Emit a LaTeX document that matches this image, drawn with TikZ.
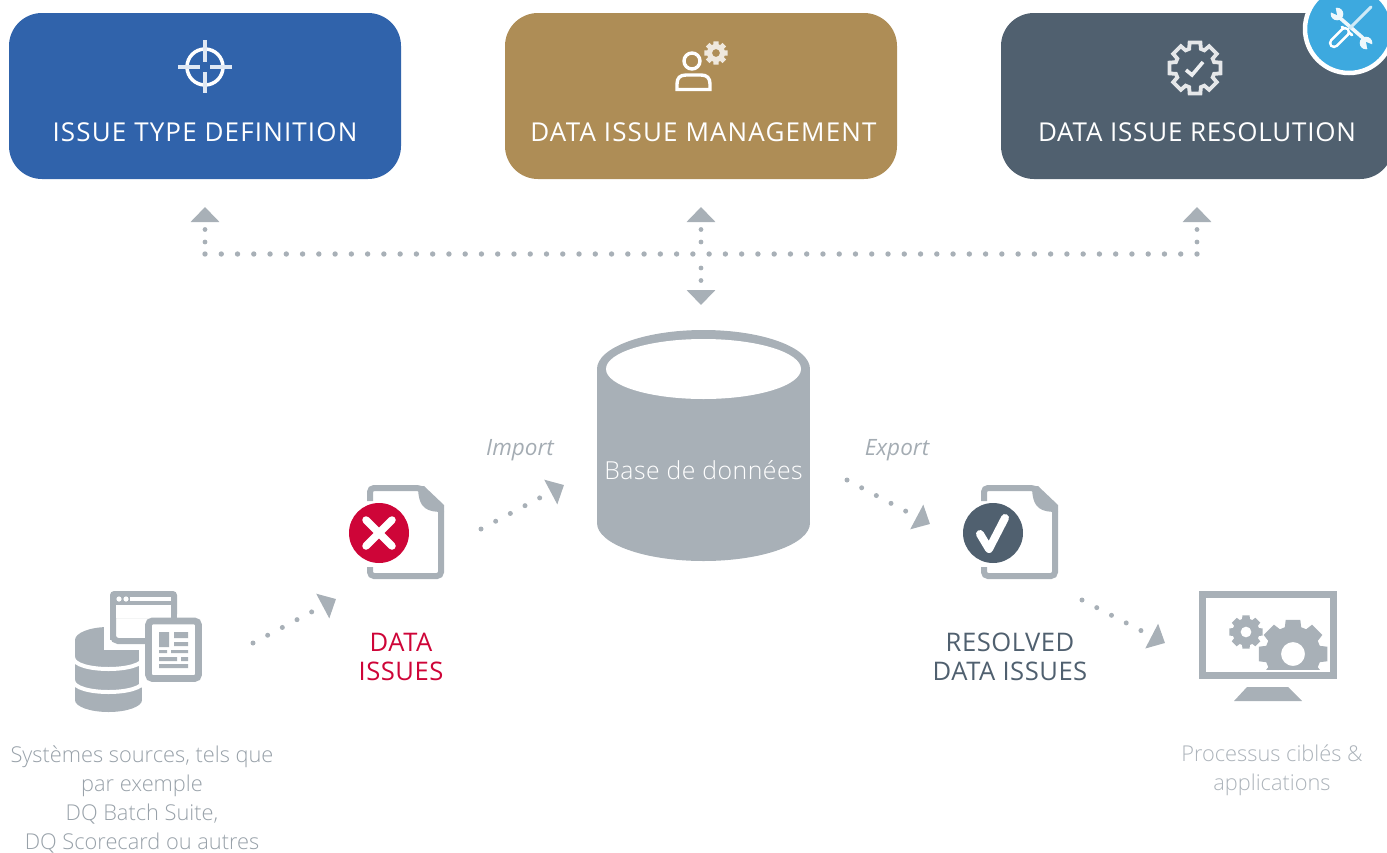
\documentclass[tikz,border=0pt]{standalone}
\usepackage{fontspec}
\setmainfont{Open Sans}
\newfontfamily\lightfont{Open Sans Light}
\usetikzlibrary{arrows.meta}
\definecolor{cblue}{HTML}{3063AB}
\definecolor{cgold}{HTML}{AE8D56}
\definecolor{cslate}{HTML}{50606F}
\definecolor{cgray}{HTML}{A8B0B7}
\definecolor{ctext}{HTML}{98A1A9}
\definecolor{cpale}{HTML}{ACB3BA}
\definecolor{cflow}{HTML}{A4ACB3}
\definecolor{cbadge}{HTML}{3DA9DF}
\definecolor{cred}{HTML}{CE0538}
\newcommand{\gearshape}[5]{% cx cy outer inner rotation
  (#1,#2) ++(#5-12:#3) \foreach \k in {0,...,7}{
    -- ([shift={(#1,#2)}]#5+\k*45-12:#3) -- ([shift={(#1,#2)}]#5+\k*45+12:#3)
    -- ([shift={(#1,#2)}]#5+\k*45+17:#4) -- ([shift={(#1,#2)}]#5+\k*45+28:#4)
  } -- cycle}
\tikzset{
  card/.style={rounded corners=33pt,minimum width=392pt,minimum height=166pt,inner sep=0pt,draw=none},
  cardtitle/.style={text=white,font=\fontsize{26}{29}\selectfont\addfontfeature{LetterSpace=4.4},anchor=base},
  cardtitlenarrow/.style={text=white,font=\fontsize{26}{29}\selectfont\addfontfeature{LetterSpace=3.1},anchor=base},
  dotline/.style={draw=cgray,line width=5.4pt,line cap=round,dash pattern=on 0pt off 16.262pt},
  dotarrow/.style={draw=cgray,line width=4.8pt,line cap=round,dash pattern=on 0pt off 12.5pt,
    -{Triangle[length=15pt,width=28pt,fill=cgray]}},
  diagarrow/.style={draw=cgray,line width=5pt,line cap=round,dash pattern=on 0pt off 16.6pt,
    -{Triangle[length=15pt,width=27pt,fill=cgray]}},
  graytext/.style={text=ctext,align=center,font=\lightfont\fontsize{21.8}{29}\selectfont},
  paletext/.style={text=cpale,align=center,font=\lightfont\fontsize{21.8}{29}\selectfont},
  statuslabel/.style={align=center,font=\fontsize{25.6}{29}\selectfont\addfontfeature{LetterSpace=2}},
  flowlabel/.style={text=cflow,font=\fontsize{22.5}{26}\selectfont\itshape},
  docline/.style={draw=cgray,line width=6pt,rounded corners=4pt},
}
\begin{document}
\begin{tikzpicture}[x=1pt,y=-1pt]
\clip (0,0) rectangle (1387,852);
% cards
\node[card,fill=cblue] (defbox) at (205,96) {};
\node[card,fill=cgold] (mgmtbox) at (701,96) {};
\node[card,fill=cslate] (resbox) at (1197,96) {};
\node[cardtitle] (deftitle) at (205,141) {ISSUE TYPE DEFINITION};
\node[cardtitle] (mgmttitle) at (703.5,141) {DATA ISSUE MANAGEMENT};
\node[cardtitlenarrow] (restitle) at (1197,141) {DATA ISSUE RESOLUTION};
% target icon
\draw[white,line width=3.5pt] (205,67) circle (18pt);
\draw[white!85!cblue,line width=4pt] (178,67)--(200,67) (210,67)--(232,67) (205,40)--(205,62) (205,72)--(205,93);
% person icon
\draw[white,line width=3.4pt] (692,61) circle (8pt);
\draw[white,line width=3.4pt] (677,89.5)--(677,84) .. controls (677,78) and (680,75) .. (686,75) -- (701,75) .. controls (707,75) and (710,78) .. (710,84) -- (710,89.5) -- cycle;
\fill[cgold!20!white,even odd rule] \gearshape{716}{53}{12}{9}{0} (716,53) circle (4pt);
% gear check icon
\draw[white!85!cslate,line width=3.8pt,line join=miter] \gearshape{1195}{68}{26}{20}{0};
\draw[white!90!cslate,line width=3.6pt] (1186,70)--(1192,75)--(1203,62);
% badge
\node[circle,fill=cbadge,draw=white,line width=4.5pt,minimum size=88pt,inner sep=0pt] (badge) at (1349,29) {};
\begin{scope}[line cap=round]
  \draw[white!92!cbadge,line width=3.6pt] (1340,18)--(1363,38);
  \fill[white!92!cbadge] (1337,14) circle (6.3pt) (1366,43) circle (6.3pt);
  \fill[cbadge] (1337,15) -- (1328,11) -- (1335,5) -- cycle;
  \fill[cbadge] (1366,42) -- (1376,46) -- (1368,52) -- cycle;
  \draw[white!75!cbadge,line width=3pt] (1371,7)--(1350,28);
  \draw[white,line width=2.8pt] (1342,27)--(1352,35);
  \draw[white,line width=10.5pt] (1345,32)--(1334,43);
  \draw[cbadge,line width=5pt] (1345,32)--(1334,43);
\end{scope}
% top dotted connectors
\coordinate (jleft) at (205,254);
\coordinate (jmid) at (701,254);
\coordinate (jright) at (1197,254);
\coordinate (tipdef) at (205,207);
\coordinate (tipmgmt) at (701,207);
\coordinate (tipres) at (1197,207);
\coordinate (tipdb) at (701,305);
\draw[dotline] (jleft) -- (jright);
\draw[dotarrow,shorten <=12pt] (jleft) -- (tipdef);
\draw[dotarrow,shorten <=12pt] (jmid) -- (tipmgmt);
\draw[dotarrow,shorten <=12pt] (jright) -- (tipres);
\draw[dotarrow,shorten <=14pt] (jmid) -- (tipdb);
% database
\fill[cgray] (597,369) rectangle (810,523);
\fill[cgray] (703.5,523) ellipse [x radius=106.5pt,y radius=38pt];
\fill[cgray] (703.5,369) ellipse [x radius=106.5pt,y radius=39pt];
\fill[white] (703.5,369) ellipse [x radius=97.5pt,y radius=30pt];
\node[text=white,font=\lightfont\fontsize{24.8}{26}\selectfont\addfontfeature{LetterSpace=2}] (dbl) at (703.5,470) {Base de données};
% labels
\node[flowlabel] (imp) at (520,450) {Import};
\node[flowlabel] (exp) at (897,450) {Export};
% source icon: cylinder
\fill[cgray] (75,640) rectangle (142,700);
\fill[cgray] (108.5,640) ellipse [x radius=33.5pt,y radius=13pt];
\fill[cgray] (108.5,700) ellipse [x radius=33.5pt,y radius=12pt];
\draw[white,line width=4pt] (73,657) .. controls (73,673) and (144,673) .. (144,657);
\draw[white,line width=4pt] (73,680) .. controls (73,696) and (144,696) .. (144,680);
% window
\fill[white] (104,585) rectangle (183,650);
\fill[white,rounded corners=4pt] (139,612) rectangle (208,688);
\fill[cgray,rounded corners=4pt] (110,591) rectangle (177,618);
\fill[cgray] (110,600) rectangle (116,640);
\fill[cgray] (171,600) rectangle (177,618);
\draw[cgray,line width=6pt,rounded corners=5pt] (113,600) -- (113,641) -- (145,641);
\fill[white] (116,605) rectangle (171,618);
\fill[white] (119,599) circle (2.6pt) (126,599) circle (2.6pt);
\fill[white] (130,597) rectangle (171,601);
% tablet
\draw[cgray,line width=6.8pt,rounded corners=4pt,fill=white] (148.5,621) rectangle (198.5,678.5);
\fill[cgray] (159,632) rectangle (169,647)
  (174,632) rectangle (188,638) (174,642) rectangle (188,646)
  (159,650) rectangle (167,653) (171,650) rectangle (188,653)
  (159,657) rectangle (177,661) (181,657) rectangle (188,661)
  (159,664) rectangle (188,668);
% document 1
\draw[docline] (370,501) -- (370,488) -- (421,488) -- (441,508) -- (441,576) -- (370,576) -- (370,567);
\fill[cgray] (418,486) -- (424,486) -- (444,505) -- (444,512) .. controls (428,512) and (418,510) .. (418,486) -- cycle;
\node[circle,fill=cred,minimum size=60pt,inner sep=0pt] (err) at (379,533) {};
\draw[white,line width=7.5pt,line cap=round] (366,520)--(392,546) (392,520)--(366,546);
% document 2
\draw[docline] (984,501) -- (984,488) -- (1035,488) -- (1055,508) -- (1055,576) -- (984,576) -- (984,567);
\fill[cgray] (1032,486) -- (1038,486) -- (1058,505) -- (1058,512) .. controls (1042,512) and (1032,510) .. (1032,486) -- cycle;
\node[circle,fill=cslate,minimum size=60pt,inner sep=0pt] (okc) at (993,533) {};
\draw[white,line width=8pt,line cap=round,line join=round] (980,534)--(989,549)--(1005,518);
% monitor
\draw[cgray,line width=6.6pt] (1202.3,594.3) rectangle (1333.7,675.7);
\fill[cgray] (1247,687) -- (1288,687) -- (1302,701) -- (1234,701) -- cycle;
\fill[cgray,even odd rule] \gearshape{1246}{632}{17}{13.5}{0} (1246,632) circle (5.5pt);
\begin{scope}
  \clip (1200,600) rectangle (1330,669);
  \fill[cgray,even odd rule] \gearshape{1293}{654}{35}{28}{0} (1293,654) circle (12pt);
\end{scope}
% diagonal connectors
\coordinate (s1) at (253,643); \coordinate (t1) at (336,599);
\coordinate (s2) at (481,529); \coordinate (t2) at (564,485);
\coordinate (s3) at (847,480); \coordinate (t3) at (930,524);
\coordinate (s4) at (1082,600); \coordinate (t4) at (1165,643);
\draw[diagarrow] (s1) -- (t1);
\draw[diagarrow] (s2) -- (t2);
\draw[diagarrow] (s3) -- (t3);
\draw[diagarrow] (s4) -- (t4);
% texts
\node[statuslabel,text=cred] (dataissues) at (401,657) {DATA\\ISSUES};
\node[statuslabel,text=cslate] (resolved) at (1010,657) {RESOLVED\\DATA ISSUES};
\node[graytext] (src) at (142,799) {Systèmes sources, tels que\\par exemple\\DQ Batch Suite,\\DQ Scorecard ou autres};
\node[paletext] (tgt) at (1272,770) {Processus ciblés \&\\applications};
\end{tikzpicture}
\end{document}
